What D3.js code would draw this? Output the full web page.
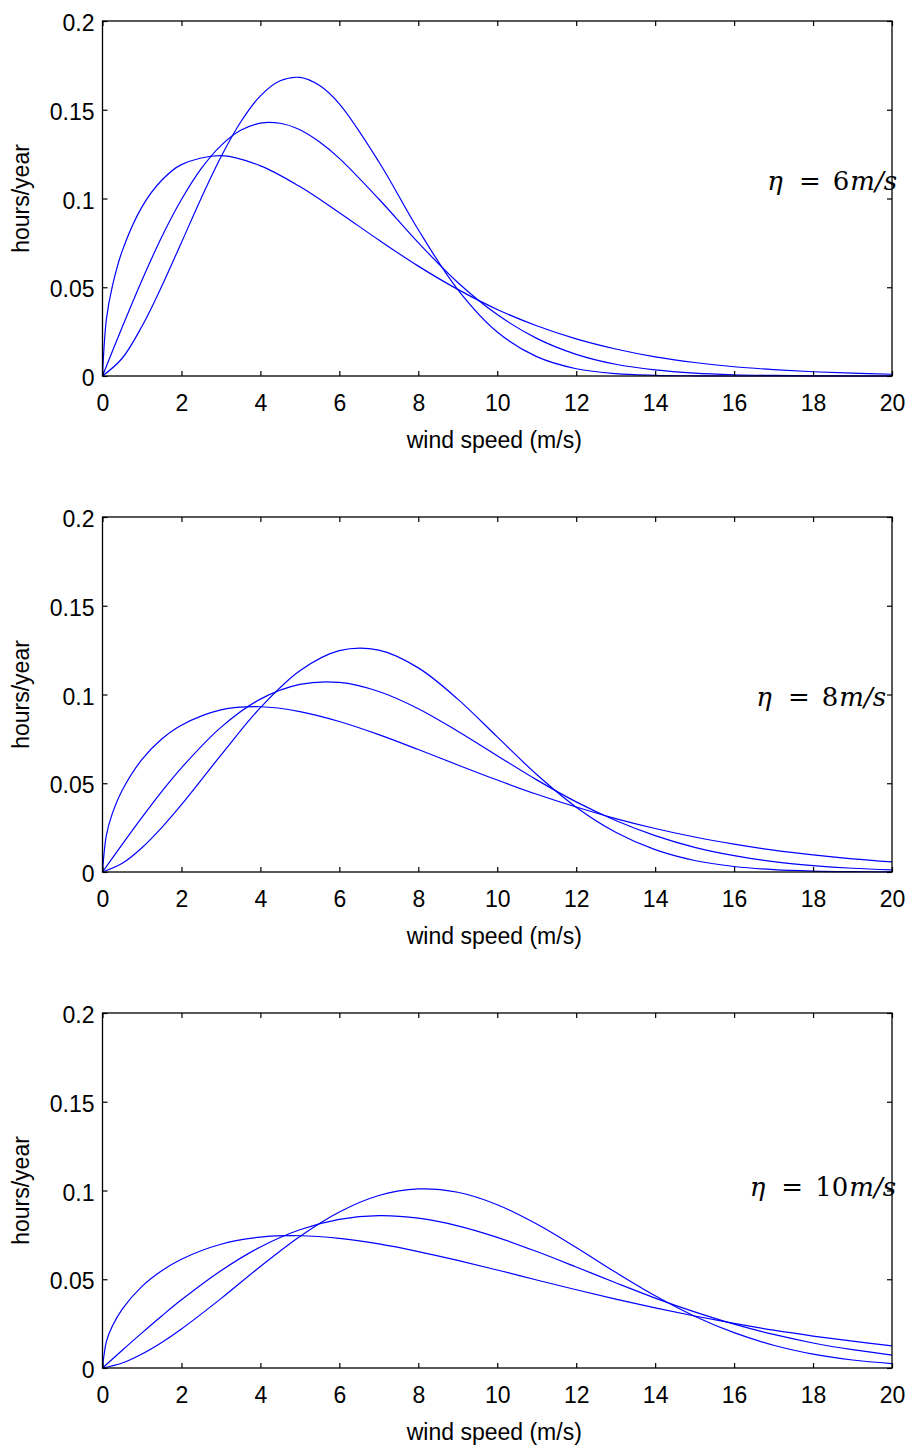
<!DOCTYPE html>
<html>
<head>
<meta charset="utf-8">
<script src="https://cdn.jsdelivr.net/npm/d3@7/dist/d3.min.js"></script>
<style>
  html, body { margin: 0; padding: 0; background: #fff; }
  svg { display: block; }
</style>
</head>
<body>
<div id="chart"></div>
<script>
// wind speed samples (m/s); the k=1.5 curves rise steeply, so they get extra points near 0
const speedsSteep = [0, 0.1, 0.25, 0.5, 1, 1.5, 2, 3, 4, 5, 6, 7, 8, 9, 10, 11, 12, 13, 14, 15, 16, 17, 18, 19, 20];
const speedsStd = [0, 0.5, 1, 1.5, 2, 3, 4, 5, 6, 7, 8, 9, 10, 11, 12, 13, 14, 15, 16, 17, 18, 19, 20];
// the eta = 6 peaks are narrow, read them at half steps up to 6
const speedsNarrow = [0, 0.5, 1, 1.5, 2, 2.5, 3, 3.5, 4, 4.5, 5, 5.5, 6, 7, 8, 9, 10, 11, 12, 13, 14, 15, 16, 17, 18, 19, 20];

// eta = 6 m/s
const eta6k15 = [0, 0.0322, 0.0506, 0.0705, 0.0953, 0.1103, 0.1191, 0.1241, 0.1184, 0.1067, 0.0920, 0.0766, 0.0619, 0.0488, 0.0375, 0.0283, 0.0209, 0.0152, 0.0108, 0.0076, 0.0052, 0.0036, 0.0024, 0.0016, 0.0010];
const eta6k2 = [0, 0.0276, 0.0540, 0.0783, 0.0994, 0.1168, 0.1298, 0.1384, 0.1425, 0.1424, 0.1387, 0.1318, 0.1226, 0.0997, 0.0751, 0.0527, 0.0346, 0.0212, 0.0122, 0.0066, 0.0034, 0.0016, 0.0007, 0.0003, 0.0001, 0, 0];
const eta6k25 = [0, 0.0100, 0.0280, 0.0505, 0.0752, 0.1002, 0.1234, 0.1431, 0.1578, 0.1663, 0.1682, 0.1636, 0.1533, 0.1207, 0.0824, 0.0487, 0.0248, 0.0109, 0.0041, 0.0013, 0.0004, 0.0001, 0, 0, 0, 0, 0];

// eta = 8 m/s
const eta8k15 = [0, 0.0209, 0.0330, 0.0461, 0.0634, 0.0749, 0.0827, 0.0913, 0.0931, 0.0904, 0.0848, 0.0774, 0.0690, 0.0603, 0.0518, 0.0438, 0.0366, 0.0301, 0.0245, 0.0197, 0.0157, 0.0123, 0.0096, 0.0074, 0.0057];
const eta8k2 = [0, 0.0156, 0.0308, 0.0453, 0.0587, 0.0815, 0.0974, 0.1057, 0.1068, 0.1017, 0.0920, 0.0793, 0.0655, 0.0519, 0.0395, 0.0290, 0.0205, 0.0139, 0.0092, 0.0058, 0.0036, 0.0021, 0.0012];
const eta8k25 = [0, 0.0049, 0.0137, 0.0250, 0.0379, 0.0658, 0.0926, 0.1134, 0.1247, 0.1250, 0.1150, 0.0974, 0.0761, 0.0549, 0.0365, 0.0224, 0.0126, 0.0065, 0.0031, 0.0013, 0.0005, 0.0002, 0.0001];

// eta = 10 m/s
const eta10k15 = [0, 0.0150, 0.0236, 0.0332, 0.0460, 0.0548, 0.0613, 0.0697, 0.0737, 0.0745, 0.0730, 0.0699, 0.0656, 0.0606, 0.0552, 0.0496, 0.0441, 0.0388, 0.0339, 0.0293, 0.0251, 0.0213, 0.0180, 0.0151, 0.0125];
const eta10k2 = [0, 0.0100, 0.0198, 0.0293, 0.0384, 0.0548, 0.0682, 0.0779, 0.0837, 0.0858, 0.0844, 0.0801, 0.0736, 0.0656, 0.0569, 0.0480, 0.0394, 0.0316, 0.0247, 0.0189, 0.0141, 0.0103, 0.0073];
const eta10k25 = [0, 0.0028, 0.0079, 0.0144, 0.0220, 0.0391, 0.0572, 0.0741, 0.0879, 0.0972, 0.1009, 0.0990, 0.0920, 0.0811, 0.0679, 0.0539, 0.0407, 0.0292, 0.0199, 0.0128, 0.0078, 0.0045, 0.0025];

const xTicks = [0, 2, 4, 6, 8, 10, 12, 14, 16, 18, 20];
const yTicks = [0, 0.05, 0.1, 0.15, 0.2];
const etaLabels = ["6", "8", "10"];

const panels = [
    { eta: etaLabels[0], curves: [[speedsSteep, eta6k15], [speedsNarrow, eta6k2], [speedsNarrow, eta6k25]] },
    { eta: etaLabels[1], curves: [[speedsSteep, eta8k15], [speedsStd, eta8k2], [speedsStd, eta8k25]] },
    { eta: etaLabels[2], curves: [[speedsSteep, eta10k15], [speedsStd, eta10k2], [speedsStd, eta10k25]] },
];

// layout
const width = 910;
const height = 1452;
const plotLeft = 102.5;
const plotRight = 892;
const plotHeight = 355;
const panelTops = [21, 517, 1013];
// eta label: right end and baseline offset from panel top
const etaPos = [
    { x: 897, dy: 169 },
    { x: 886, dy: 189 },
    { x: 896, dy: 183 },
];
const fontSans = "'Liberation Sans', Arial, sans-serif";

const svg = d3.select("#chart")
    .append("svg")
    .attr("width", width)
    .attr("height", height)
    .attr("viewBox", [0, 0, width, height]);

svg.append("rect").attr("width", width).attr("height", height).attr("fill", "#fff");

let x = d3.scaleLinear().domain([0, 20]).range([0, plotRight - plotLeft]);
let y = d3.scaleLinear().domain([0, 0.2]).range([plotHeight, 0]);

let line = d3.line()
    .x(d => x(d[0]))
    .y(d => y(d[1]))
    .curve(d3.curveCatmullRom.alpha(0.5));

panels.forEach((panel, i) => {
    let g = svg.append("g").attr("transform", `translate(${plotLeft}, ${panelTops[i]})`);
    let w = plotRight - plotLeft;

    // curves
    for (let [speeds, values] of panel.curves) {
        let pts = speeds.map((s, j) => [s, values[j]]);
        g.append("path")
            .datum(pts)
            .attr("fill", "none")
            .attr("stroke", "#0000ff")
            .attr("stroke-width", 1.2)
            .attr("d", line);
    }

    // axes, ticks pointing inward like matlab
    let bottom = g.append("g")
        .attr("transform", `translate(0, ${plotHeight})`)
        .call(d3.axisBottom(x).tickValues(xTicks).tickSize(-5).tickSizeOuter(0).tickPadding(19));
    let top = g.append("g")
        .call(d3.axisTop(x).tickValues(xTicks).tickSize(-5).tickSizeOuter(0).tickFormat(""));
    let left = g.append("g")
        .call(d3.axisLeft(y).tickValues(yTicks).tickSize(-5).tickSizeOuter(0).tickPadding(8).tickFormat(d3.format("")));
    let right = g.append("g")
        .attr("transform", `translate(${w}, 0)`)
        .call(d3.axisRight(y).tickValues(yTicks).tickSize(-5).tickSizeOuter(0).tickFormat(""));

    for (let ax of [bottom, top, left, right]) {
        ax.select(".domain").remove();
        ax.selectAll("line").attr("stroke", "#000").attr("stroke-width", 1.2);
        ax.selectAll("text")
            .attr("fill", "#000")
            .style("font-family", fontSans)
            .style("font-size", "23px");
    }
    left.selectAll("text").attr("dy", "0.42em");

    // box
    g.append("rect")
        .attr("x", 0)
        .attr("y", 0)
        .attr("width", w)
        .attr("height", plotHeight)
        .attr("fill", "none")
        .attr("stroke", "#000")
        .attr("stroke-width", 1.3);

    // axis titles
    g.append("text")
        .attr("x", w / 2 - 3)
        .attr("y", plotHeight + 72)
        .attr("text-anchor", "middle")
        .style("font-family", fontSans)
        .style("font-size", "23px")
        .text("wind speed (m/s)");

    g.append("text")
        .attr("transform", `translate(${29 - plotLeft}, ${plotHeight / 2}) rotate(-90)`)
        .attr("text-anchor", "middle")
        .style("font-family", fontSans)
        .style("font-size", "23px")
        .text("hours/year");

    // eta label
    let p = etaPos[i];
    let label = svg.append("text")
        .attr("x", p.x)
        .attr("y", panelTops[i] + p.dy)
        .attr("text-anchor", "end")
        .style("font-family", "'DejaVu Serif', serif")
        .style("font-size", "26px");
    label.append("tspan").style("font-style", "italic").text("η");
    label.append("tspan").attr("dx", 16).text("=");
    label.append("tspan").attr("dx", 12).text(panel.eta);
    label.append("tspan").attr("dx", 1).style("font-style", "italic").text("m/s");
});
</script>
</body>
</html>
